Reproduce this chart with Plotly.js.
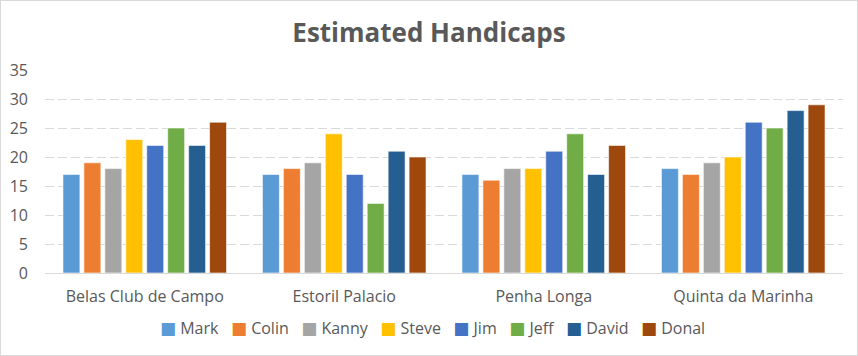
<!DOCTYPE html>
<html>
<head>
<meta charset="utf-8">
<script src="https://cdn.plot.ly/plotly-3.0.1.min.js"></script>
<style>
html,body{margin:0;padding:0;background:#fff;}
#chart{width:856px;height:354px;border:1px solid #d9d9d9;}
</style>
</head>
<body>
<div id="chart"></div>
<script>
const courses = ["Belas Club de Campo", "Estoril Palacio", "Penha Longa", "Quinta da Marinha"];
const players = ["Mark", "Colin", "Kanny", "Steve", "Jim", "Jeff", "David", "Donal"];
const mark  = [17, 17, 17, 18];
const colin = [19, 18, 16, 17];
const kanny = [18, 19, 18, 19];
const steve = [23, 24, 18, 20];
const jim   = [22, 17, 21, 26];
const jeff  = [25, 12, 24, 25];
const david = [22, 21, 17, 28];
const donal = [26, 20, 22, 29];
const yTicks = [0, 5, 10, 15, 20, 25, 30, 35];

const seriesValues = [mark, colin, kanny, steve, jim, jeff, david, donal];
const colors = ["#5B9BD5", "#ED7D31", "#A5A5A5", "#FFC000", "#4472C4", "#70AD47", "#255E91", "#9E480E"];

const font = "Open Sans, Noto Sans, sans-serif";
const traces = players.map((p, i) => ({
  type: "bar",
  name: p,
  x: courses,
  y: seriesValues[i],
  marker: {color: colors[i], line: {color: "rgba(255,255,255,0.6)", width: 1}},
  hoverinfo: "x+y+name"
}));

// Compact Excel-style legend built from the series names and colours
const legendText = players.map((p, i) =>
  `<span style="color:${colors[i]};font-family:DejaVu Sans;font-size:17px">■</span> ${p}`
).join("&nbsp;&nbsp;&nbsp;");

const layout = {
  width: 856, height: 354,
  margin: {l: 44, r: 14, t: 69, b: 82},
  paper_bgcolor: "#fff", plot_bgcolor: "#fff",
  barmode: "group", bargap: 0.16, bargroupgap: 0.19,
  title: {text: "<b>Estimated Handicaps</b>", x: 0.5, xanchor: "center", y: 0.91, yanchor: "middle",
          font: {family: font, size: 26, color: "#595959"}},
  font: {family: font, color: "#595959", size: 16},
  xaxis: {tickfont: {size: 16, color: "#595959"}, showline: true, linecolor: "#d9d9d9", linewidth: 1,
          ticks: "", showgrid: false, ticklabelstandoff: 9},
  yaxis: {range: [0, 35], tickvals: yTicks, ticktext: yTicks.map(String), showgrid: true, gridcolor: "#d9d9d9",
          griddash: "9px,4px", gridwidth: 1, zeroline: false, showline: false, ticks: "",
          tickfont: {size: 16, color: "#595959"}, ticklabelstandoff: 16},
  showlegend: false,
  annotations: [{
    xref: "paper", yref: "paper", x: 0.486, y: -0.271, xanchor: "center", yanchor: "middle",
    showarrow: false, text: legendText, font: {family: font, size: 16, color: "#595959"}
  }]
};

Plotly.newPlot("chart", traces, layout, {displayModeBar: false, staticPlot: true});
</script>
</body>
</html>
